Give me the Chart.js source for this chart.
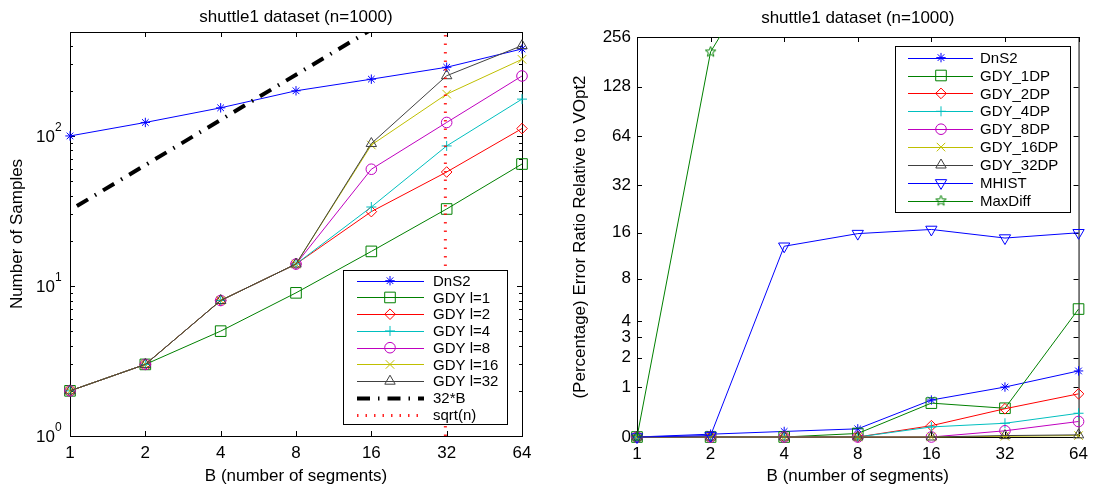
<!DOCTYPE html>
<html>
<head>
<meta charset="utf-8">
<script src="https://cdn.jsdelivr.net/npm/chart.js@4.4.1/dist/chart.umd.min.js"></script>
<style>
  html, body { margin: 0; padding: 0; background: #fff; }
  #wrap { position: relative; width: 1095px; height: 495px; }
  #left { position: absolute; left: 0; top: 0; }
  #right { position: absolute; left: 545px; top: 0; }
</style>
</head>
<body>
<div id="wrap">
  <canvas id="left" width="545" height="495"></canvas>
  <canvas id="right" width="550" height="495"></canvas>
</div>
<script>
// B values on the x axis (both plots)
const segments = [1, 2, 4, 8, 16, 32, 64];

// left plot: number of samples
const samplesDnS2 = [100, 123, 154, 200, 239, 287, 380];
const samplesL1   = [2, 3, 5, 9, 17, 32.6, 65];
const samplesL2   = [2, 3, 8, 14, 31.3, 57.5, 112];
const samplesL4   = [2, 3, 8, 14, 33.6, 85.8, 176];
const samplesL8   = [2, 3, 8, 14, 60, 123, 251];
const samplesL16  = [2, 3, 8, 14, 87, 190, 324];
const samplesL32  = [2, 3, 8, 14, 89, 252, 400];
const bound32B    = [32, 64, 128, 256, 512, 1024, 2048];
const sqrtN = 31.62;
const samplesTicks = [1, 10, 100];
const samplesMax = 493;

// right plot: error ratio relative to VOpt2 (percent)
const errDnS2  = [0, 0.04, 0.08, 0.12, 0.67, 1.0, 1.5];
const err1DP   = [0, 0, 0, 0.05, 0.6, 0.49, 4.9];
const err2DP   = [0, 0, 0, 0, 0.17, 0.48, 0.82];
const err4DP   = [0, 0, 0, 0, 0.15, 0.21, 0.39];
const err8DP   = [0, 0, 0, 0, 0, 0.09, 0.24];
const err16DP  = [0, 0, 0, 0, 0, 0.01, 0.02];
const err32DP  = [0, 0, 0, 0, 0, 0.02, 0.03];
const errMHIST = [0, 0.02, 13.1, 15.8, 16.8, 14.8, 16.0];
const errMaxDiff = [0, 208, 1130, 1250, 1300, 1350, 1400];
const errTicks = [0, 1, 2, 3, 4, 8, 16, 32, 64, 128, 256];
const errMax = 256;

const FONT = 'Liberation Sans, Arial, Helvetica, sans-serif';
const BLUE = '#0000ff', GREEN = '#008000', RED = '#ff0000', CYAN = '#00bfbf',
      MAGENTA = '#bf00bf', OLIVE = '#bfbf00', DARK = '#404040';

// y axis on the right plot is log2(1 + v)
const squash = v => Math.log2(1 + v);

function pentagram(color, r) {
  const c = document.createElement('canvas');
  const s = Math.ceil(r * 2 + 2);
  c.width = s; c.height = s;
  const g = c.getContext('2d');
  g.strokeStyle = color;
  g.lineWidth = 1;
  g.beginPath();
  for (let i = 0; i < 10; i++) {
    const ang = -Math.PI / 2 + i * Math.PI / 5;
    const rr = i % 2 ? r * 0.42 : r;
    g.lineTo(s / 2 + rr * Math.cos(ang), s / 2 + rr * Math.sin(ang));
  }
  g.closePath();
  g.stroke();
  return c;
}

function series(label, values, color, style, radius, map, extra) {
  return Object.assign({
    label: label,
    data: segments.map((b, i) => ({ x: b, y: map ? map(values[i]) : values[i] })),
    borderColor: color,
    backgroundColor: color,
    borderWidth: 1,
    pointStyle: style,
    pointRadius: radius,
    pointHoverRadius: radius,
    pointBorderColor: color,
    pointBackgroundColor: 'rgba(0,0,0,0)',
    pointBorderWidth: 1,
    tension: 0,
    clip: { left: 12, right: 12, bottom: 12, top: 0 }
  }, extra || {});
}

// box, inward ticks, title and the 10^k labels
const frame = {
  id: 'frame',
  beforeDatasetsDraw(chart, args, o) {
    const { ctx, chartArea: a, scales: { x, y } } = chart;
    ctx.save();
    ctx.strokeStyle = '#000';
    ctx.lineWidth = 1;
    ctx.beginPath();
    const tick = (px, py, dx, dy) => { ctx.moveTo(px, py); ctx.lineTo(px + dx, py + dy); };
    x.ticks.forEach(t => {
      const p = Math.round(x.getPixelForValue(t.value)) + 0.5;
      tick(p, a.bottom, 0, -5); tick(p, a.top, 0, 5);
    });
    y.ticks.forEach(t => {
      const p = Math.round(y.getPixelForValue(t.value)) + 0.5;
      tick(a.left, p, 5, 0); tick(a.right, p, -5, 0);
    });
    (o.minorY || []).forEach(v => {
      const p = Math.round(y.getPixelForValue(v)) + 0.5;
      tick(a.left, p, 3, 0); tick(a.right, p, -3, 0);
    });
    ctx.stroke();
    ctx.strokeRect(a.left + 0.5, a.top + 0.5, a.right - a.left, a.bottom - a.top);

    ctx.fillStyle = '#000';
    ctx.font = '17px ' + FONT;
    ctx.textAlign = 'center';
    ctx.textBaseline = 'middle';
    ctx.fillText(o.title, (a.left + a.right) / 2, o.titleY);

    if (o.powers) {
      y.ticks.forEach(t => {
        const p = y.getPixelForValue(t.value);
        ctx.font = '17px ' + FONT;
        ctx.textAlign = 'right';
        ctx.fillText('10', a.left - 15, p + 1);
        ctx.font = '12px ' + FONT;
        ctx.textAlign = 'left';
        ctx.fillText(String(Math.round(Math.log10(t.value))), a.left - 15, p - 8);
      });
    }
    ctx.restore();
  }
};

// legend box inside the axes
const boxLegend = {
  id: 'boxLegend',
  afterDatasetsDraw(chart, args, o) {
    const ctx = chart.ctx;
    ctx.save();
    ctx.fillStyle = '#fff';
    ctx.fillRect(o.left, o.top, o.width, o.height);
    ctx.strokeStyle = '#000';
    ctx.lineWidth = 1;
    ctx.strokeRect(o.left + 0.5, o.top + 0.5, o.width, o.height);
    ctx.font = '15px ' + FONT;
    ctx.textBaseline = 'middle';
    ctx.textAlign = 'left';
    chart.data.datasets.forEach((ds, i) => {
      const yy = o.firstRow + i * o.rowStep;
      const ly = Math.round(yy) + 0.5;
      ctx.save();
      ctx.strokeStyle = ds.borderColor;
      ctx.lineWidth = ds.borderWidth;
      ctx.setLineDash(ds.borderDash || []);
      ctx.beginPath();
      ctx.moveTo(o.lineFrom, ly);
      ctx.lineTo(o.lineTo, ly);
      ctx.stroke();
      ctx.setLineDash([]);
      if (ds.pointRadius > 0) {
        ctx.lineWidth = 1;
        ctx.fillStyle = 'rgba(0,0,0,0)';
        Chart.helpers.drawPoint(ctx, {
          pointStyle: ds.pointStyle, radius: ds.pointRadius,
          rotation: ds.pointRotation || 0, borderWidth: 1
        }, o.markX, yy);
      }
      ctx.restore();
      ctx.fillStyle = '#000';
      ctx.fillText(ds.label, o.textX, yy + 1);
    });
    ctx.restore();
  }
};

const tickFont = { family: FONT, size: 17 };
const titleFont = { family: FONT, size: 17 };

function xAxis(height) {
  return {
    type: 'logarithmic', min: 1, max: 64,
    afterBuildTicks: s => { s.ticks = segments.map(v => ({ value: v })); },
    afterFit: s => { s.height = height; },
    grid: { display: false, drawTicks: false },
    border: { display: false },
    ticks: { callback: v => String(v), color: '#000', font: tickFont, padding: 7, autoSkip: false, maxRotation: 0 },
    title: { display: true, text: 'B (number of segments)', color: '#000', font: titleFont, padding: { top: 0, bottom: 8 } }
  };
}

function stack(list) {
  const n = list.length;
  list.forEach((ds, i) => { ds.order = n - i; });
  return list;
}

// minor ticks of the log axis
const minorSamples = [];
samplesTicks.forEach(d => {
  for (let k = 2; k <= 9; k++) if (d * k < samplesMax) minorSamples.push(d * k);
});

new Chart(document.getElementById('left'), {
  type: 'line',
  data: {
    datasets: stack([
      series('DnS2', samplesDnS2, BLUE, 'star', 4.7),
      series('GDY l=1', samplesL1, GREEN, 'rect', 7.5),
      series('GDY l=2', samplesL2, RED, 'rectRot', 5.3),
      series('GDY l=4', samplesL4, CYAN, 'cross', 5),
      series('GDY l=8', samplesL8, MAGENTA, 'circle', 5.3),
      series('GDY l=16', samplesL16, OLIVE, 'crossRot', 6),
      series('GDY l=32', samplesL32, DARK, 'triangle', 6),
      series('32*B', bound32B, '#000', 'circle', 0, null, {
        borderWidth: 4, borderDash: [13, 8, 1.5, 8], borderDashOffset: 22.5
      }),
      {
        label: 'sqrt(n)',
        data: [{ x: sqrtN, y: 1 }, { x: sqrtN, y: samplesMax }],
        borderColor: 'rgba(255,0,0,0.85)', borderWidth: 3, borderDash: [1.5, 7],
        pointRadius: 0, pointHoverRadius: 0, clip: 0
      }
    ])
  },
  options: {
    responsive: false,
    devicePixelRatio: 1,
    animation: false,
    events: [],
    layout: { padding: { left: 0, right: 23, top: 32, bottom: 0 } },
    plugins: {
      legend: { display: false },
      tooltip: { enabled: false },
      frame: { title: 'shuttle1 dataset (n=1000)', titleY: 17, minorY: minorSamples, powers: true },
      boxLegend: {
        left: 343, top: 270, width: 164, height: 154,
        firstRow: 280.7, rowStep: 16.75, lineFrom: 357, lineTo: 424, markX: 390, textX: 433
      }
    },
    scales: {
      x: xAxis(59),
      y: {
        type: 'logarithmic', min: 1, max: samplesMax,
        afterBuildTicks: s => { s.ticks = samplesTicks.map(v => ({ value: v })); },
        afterFit: s => { s.width = 70; },
        grid: { display: false, drawTicks: false },
        border: { display: false },
        ticks: { display: false },
        title: { display: true, text: 'Number of Samples', color: '#000', font: titleFont, padding: { top: 7, bottom: 0 } }
      }
    }
  },
  plugins: [frame, boxLegend]
});

new Chart(document.getElementById('right'), {
  type: 'line',
  data: {
    datasets: stack([
      series('DnS2', errDnS2, BLUE, 'star', 4.7, squash),
      series('GDY_1DP', err1DP, GREEN, 'rect', 7.5, squash),
      series('GDY_2DP', err2DP, RED, 'rectRot', 5.3, squash),
      series('GDY_4DP', err4DP, CYAN, 'cross', 5, squash),
      series('GDY_8DP', err8DP, MAGENTA, 'circle', 5.3, squash),
      series('GDY_16DP', err16DP, OLIVE, 'crossRot', 6, squash),
      series('GDY_32DP', err32DP, DARK, 'triangle', 6, squash),
      series('MHIST', errMHIST, BLUE, 'triangle', 6.5, squash, { pointRotation: 180 }),
      series('MaxDiff', errMaxDiff, GREEN, pentagram(GREEN, 5.5), 5.5, squash)
    ])
  },
  options: {
    responsive: false,
    devicePixelRatio: 1,
    animation: false,
    events: [],
    layout: { padding: { left: 0, right: 11, top: 37, bottom: 0 } },
    plugins: {
      legend: { display: false },
      tooltip: { enabled: false },
      frame: { title: 'shuttle1 dataset (n=1000)', titleY: 18 },
      boxLegend: {
        left: 350, top: 46, width: 175, height: 166,
        firstRow: 57.6, rowStep: 17.9, lineFrom: 363, lineTo: 428, markX: 396, textX: 435
      }
    },
    scales: {
      x: xAxis(58),
      y: {
        type: 'linear', min: 0, max: squash(errMax),
        afterBuildTicks: s => { s.ticks = errTicks.map(v => ({ value: squash(v) })); },
        afterFit: s => { s.width = 92; },
        grid: { display: false, drawTicks: false },
        border: { display: false },
        ticks: {
          callback: v => String(Math.round(Math.pow(2, v) - 1)),
          color: '#000', font: tickFont, padding: 6, autoSkip: false
        },
        title: {
          display: true, text: '(Percentage) Error Ratio Relative to VOpt2',
          color: '#000', font: titleFont, padding: { top: 25, bottom: 0 }
        }
      }
    }
  },
  plugins: [frame, boxLegend]
});
</script>
</body>
</html>
